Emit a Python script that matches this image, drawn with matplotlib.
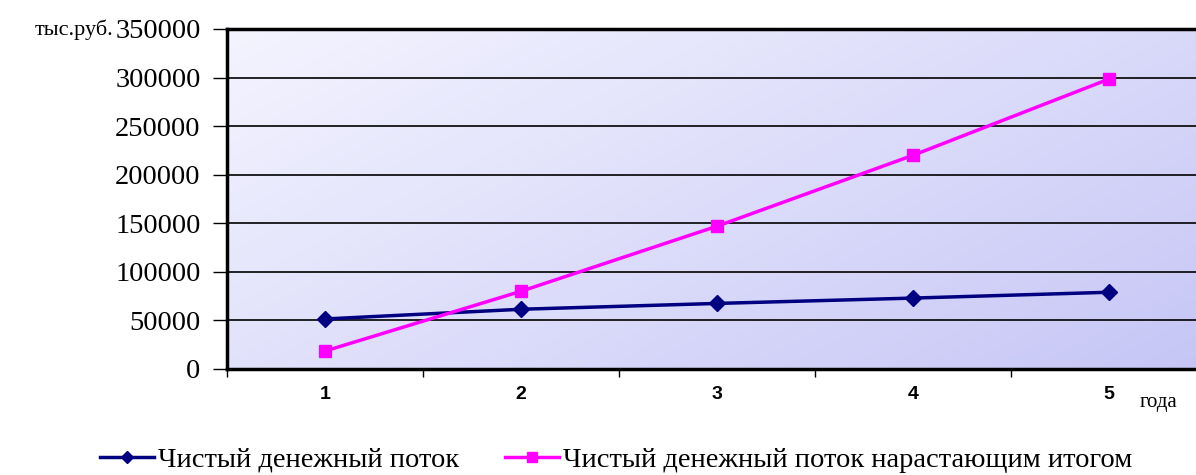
import numpy as np
import matplotlib.pyplot as plt
from matplotlib.colors import LinearSegmentedColormap

years = ["1", "2", "3", "4", "5"]
net_flow = [51500, 61500, 67500, 73000, 79000]
cum_flow = [18500, 80000, 147000, 220000, 298500]
y_ticks = [0, 50000, 100000, 150000, 200000, 250000, 300000, 350000]

plt.rcParams['font.family'] = ['Liberation Serif', 'DejaVu Serif']

fig = plt.figure(figsize=(11.96, 4.75), dpi=100)
ax = fig.add_axes([227/1196, 1-369/475, 980/1196, 340/475])

# gradient background
cmap = LinearSegmentedColormap.from_list("bg", ["#f4f4ff", "#c6c6f6"])
gx, gy = np.meshgrid(np.linspace(0, 1, 200), np.linspace(0, 1, 200))
ax.imshow(gx*0.6 + gy*0.4, cmap=cmap, extent=[0, 1, 0, 1], transform=ax.transAxes,
          aspect='auto', zorder=0, origin='upper')

x = np.arange(len(years)) + 0.5
for t in y_ticks[1:-1]:
    ax.axhline(t, color='black', lw=1.2, zorder=1)

ax.plot(x, net_flow, color='#000080', lw=2.5, marker='D', ms=8, zorder=3,
        label='Чистый денежный поток')
ax.plot(x, cum_flow, color='#ff00ff', lw=2.5, marker='s', ms=9, zorder=3,
        label='Чистый денежный поток нарастающим итогом')

ax.set_xlim(0, len(years))
ax.set_ylim(0, 350000)
ax.set_yticks(y_ticks)
ax.set_yticklabels([str(v) for v in y_ticks], fontsize=20.5)
ax.set_xticks(range(len(years)))
ax.set_xticklabels([])
ax.set_xticks(x, minor=True)
ax.set_xticklabels(years, minor=True, fontsize=14, fontweight='bold',
                   family='Liberation Sans')
ax.tick_params(axis='x', which='minor', length=0, pad=12)
ax.tick_params(axis='x', which='major', length=6, width=1, direction='out')
ax.tick_params(axis='y', length=10, width=1, direction='out', pad=9)

for s in ['left', 'bottom', 'top']:
    ax.spines[s].set_linewidth(2.5)
ax.spines['right'].set_visible(False)

fig.text(35/1196, 1-30/475, 'тыс.руб.', fontsize=16, va='center', ha='left')
fig.text(1140/1196, 1-403/475, 'года', fontsize=15, va='center', ha='left')

fig.legend(loc='center', bbox_to_anchor=(616/1196, 1-460/475), ncol=2, frameon=False,
           fontsize=20.5, handlelength=1.9, handletextpad=0.15, columnspacing=1.6,
           markerscale=0.8)

fig.savefig('out.png', dpi=100)
